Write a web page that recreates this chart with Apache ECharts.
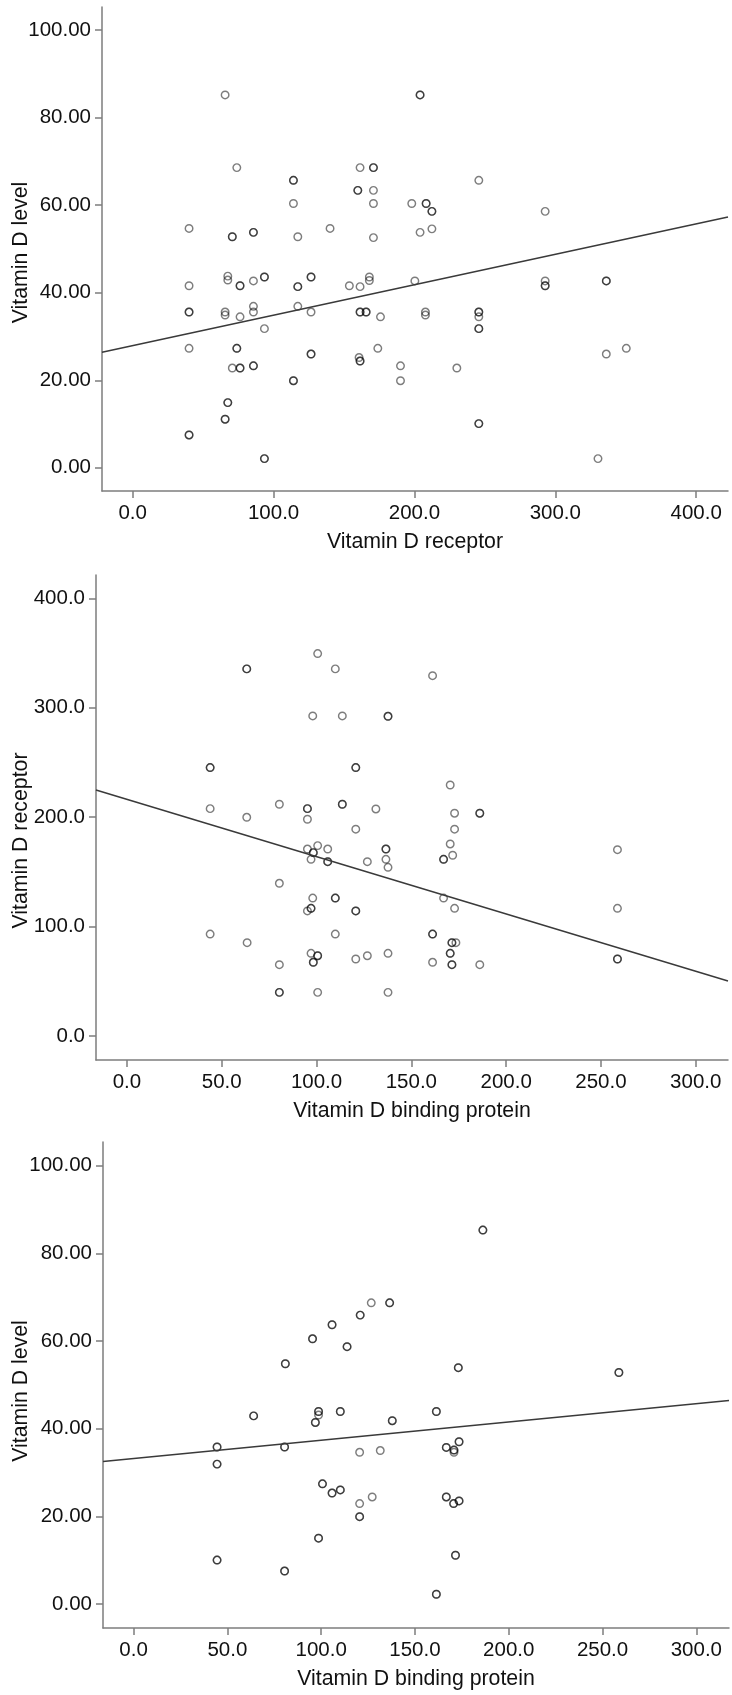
<!DOCTYPE html>
<html>
<head>
<meta charset="utf-8">
<title>Vitamin D scatter plots</title>
<script src="https://cdn.jsdelivr.net/npm/echarts@6.0.0/dist/echarts.min.js"></script>
<style>
  html, body { margin: 0; padding: 0; background: #fff; }
  #chart { width: 732px; height: 1695px; }
</style>
</head>
<body>
<div id="chart"></div>
<script>
// ---- panel 1: Vitamin D receptor (x) vs Vitamin D level (y) ----
// N = how many circles sit on the same spot (drawn on top of each other)
var p1X = [65.6, 73.9, 40.0, 70.7, 85.7, 114.1, 114.1, 117.2, 140.1, 161.4, 159.8, 204.0, 170.9, 170.9, 170.9, 198.1,
  208.3, 212.4, 245.7, 292.8, 204.0, 212.4, 170.9, 40.0, 67.5, 67.5, 76.2, 85.7, 93.5, 117.2, 126.6, 153.8,
  161.4, 168.0, 168.0, 40.0, 65.6, 65.6, 76.2, 85.7, 85.7, 93.5, 117.2, 126.6, 161.4, 165.7, 40.0, 73.9,
  70.7, 76.2, 85.7, 126.6, 160.7, 161.4, 114.1, 67.5, 65.6, 40.0, 93.5, 175.9, 200.3, 207.8, 207.8, 245.7,
  245.7, 245.7, 292.8, 292.8, 336.2, 174.0, 190.1, 190.1, 230.1, 336.2, 350.4, 245.7, 330.3];
var p1Y = [85.2, 68.6, 54.7, 52.8, 53.8, 65.7, 60.4, 52.8, 54.7, 68.6, 63.4, 85.2, 68.6, 63.4, 60.4, 60.4,
  60.4, 58.6, 65.7, 58.6, 53.8, 54.6, 52.6, 41.6, 43.8, 42.9, 41.6, 42.7, 43.6, 41.4, 43.6, 41.6,
  41.4, 43.6, 42.8, 35.6, 35.6, 34.9, 34.5, 36.9, 35.6, 31.8, 36.9, 35.6, 35.6, 35.6, 27.3, 27.3,
  22.8, 22.8, 23.3, 26.0, 25.2, 24.4, 19.9, 14.9, 11.1, 7.5, 2.1, 34.5, 42.7, 35.6, 34.9, 35.6,
  34.5, 31.8, 42.7, 41.6, 42.7, 27.3, 23.3, 19.9, 22.8, 26.0, 27.3, 10.1, 2.1];
var p1N = [1, 1, 1, 2, 2, 2, 1, 1, 1, 1, 2, 2, 2, 1, 1, 1,
  2, 2, 1, 1, 1, 1, 1, 1, 1, 1, 2, 1, 2, 2, 2, 1,
  1, 1, 1, 2, 1, 1, 1, 1, 1, 1, 1, 1, 2, 2, 1, 2,
  1, 2, 2, 2, 1, 2, 2, 2, 2, 2, 2, 1, 1, 1, 1, 2,
  1, 2, 1, 2, 2, 1, 1, 1, 1, 1, 1, 2, 1];
var p1Fit = [27.92, 0.0695]; // intercept, slope
var p1XTicks = [0, 100, 200, 300, 400];
var p1YTicks = [0, 20, 40, 60, 80, 100];

// ---- panel 2: Vitamin D binding protein (x) vs Vitamin D receptor (y) ----
var p2X = [63.2, 100.6, 109.9, 98.0, 113.6, 43.9, 120.7, 43.9, 63.2, 80.4, 95.2, 95.2, 113.6, 120.7, 161.2, 137.7,
  170.5, 131.3, 172.8, 186.1, 172.8, 95.2, 100.6, 105.9, 98.3, 97.1, 105.9, 126.8, 80.4, 98.0, 109.9, 95.2,
  97.1, 120.7, 43.9, 63.4, 109.9, 97.1, 100.6, 98.3, 80.4, 120.7, 126.8, 80.4, 100.6, 170.5, 136.6, 136.6,
  137.7, 167.0, 171.8, 258.7, 167.0, 172.8, 258.7, 161.2, 171.4, 173.5, 170.5, 161.2, 171.4, 186.1, 137.7, 137.7,
  258.7];
var p2Y = [335.5, 349.5, 335.5, 292.5, 292.5, 245.3, 245.3, 207.8, 199.9, 211.8, 207.8, 198.1, 211.8, 189.0, 329.3, 292.2,
  229.4, 207.5, 203.6, 203.6, 189.0, 170.9, 174.0, 170.9, 167.6, 161.5, 159.3, 159.3, 139.6, 126.1, 126.1, 114.3,
  116.7, 114.3, 93.2, 85.3, 93.2, 75.6, 73.4, 67.4, 65.2, 70.4, 73.4, 39.9, 39.9, 175.5, 170.9, 161.5,
  154.2, 161.5, 165.2, 170.3, 126.1, 116.7, 116.7, 93.2, 85.3, 85.3, 75.6, 67.4, 65.2, 65.2, 75.6, 39.9,
  70.4];
var p2N = [2, 1, 1, 1, 1, 2, 2, 1, 1, 1, 2, 1, 2, 1, 1, 2,
  1, 1, 1, 2, 1, 1, 1, 1, 2, 1, 2, 1, 1, 1, 2, 1,
  2, 2, 1, 1, 1, 1, 2, 2, 1, 1, 1, 2, 1, 1, 2, 1,
  1, 2, 1, 1, 1, 1, 1, 2, 2, 1, 2, 1, 2, 1, 1, 1,
  2];
var p2Fit = [216.36, -0.5239];
var p2XTicks = [0, 50, 100, 150, 200, 250, 300];
var p2YTicks = [0, 100, 200, 300, 400];

// ---- panel 3: Vitamin D binding protein (x) vs Vitamin D level (y) ----
var p3X = [80.9, 95.4, 105.8, 113.8, 120.8, 186.2, 126.7, 136.5, 173.1, 258.7, 64.0, 98.6, 98.6, 96.9, 110.2, 44.5,
  80.5, 44.5, 120.5, 100.7, 105.8, 110.2, 120.5, 120.5, 98.6, 44.5, 80.5, 137.9, 161.4, 131.5, 166.7, 170.8,
  170.8, 173.5, 127.2, 166.7, 170.6, 173.5, 171.6, 161.4];
var p3Y = [54.8, 60.5, 63.7, 58.7, 65.9, 85.3, 68.7, 68.7, 53.9, 52.8, 42.9, 43.9, 43.1, 41.4, 43.9, 35.8,
  35.8, 31.9, 34.6, 27.4, 25.3, 26.0, 22.9, 19.9, 15.0, 10.0, 7.5, 41.8, 43.9, 35.0, 35.7, 35.1,
  34.6, 37.0, 24.4, 24.4, 22.9, 23.5, 11.1, 2.2];
var p3N = [2, 2, 2, 2, 2, 2, 1, 2, 2, 2, 2, 2, 1, 2, 2, 2,
  2, 2, 1, 2, 2, 2, 1, 2, 2, 2, 2, 2, 2, 1, 2, 2,
  1, 2, 1, 2, 2, 2, 2, 2];
var p3Fit = [33.18, 0.04165];
var p3XTicks = [0, 50, 100, 150, 200, 250, 300];
var p3YTicks = [0, 20, 40, 60, 80, 100];

var FONT = '"Liberation Sans", Arial, sans-serif';
var AXIS_GRAY = '#7d7d7d';

function toPoints(xs, ys, ns) {
  var out = [];
  for (var i = 0; i < xs.length; i++) {
    for (var k = 0; k < ns[i]; k++) {
      out.push([xs[i], ys[i]]);
    }
  }
  return out;
}

function fitLine(fit, range) {
  return [
    [range[0], fit[0] + fit[1] * range[0]],
    [range[1], fit[0] + fit[1] * range[1]]
  ];
}

function fmt(digits) {
  return function(v) { return v.toFixed(digits); };
}

function makeAxis(idx, range, ticks, name, nameGap, namePad, labelMargin, formatter) {
  return {
    gridIndex: idx,
    type: 'value',
    min: range[0],
    max: range[1],
    name: name,
    nameLocation: 'middle',
    nameGap: nameGap,
    nameMoveOverlap: false,
    nameTextStyle: { fontSize: 21.3, color: '#111', fontFamily: FONT, padding: namePad },
    axisLine: { show: true, onZero: false, lineStyle: { color: AXIS_GRAY, width: 1.5 } },
    axisTick: { show: true, length: 7, customValues: ticks, lineStyle: { color: AXIS_GRAY, width: 1.5 } },
    axisLabel: { customValues: ticks, margin: labelMargin, fontSize: 20.5, color: '#111', fontFamily: FONT, formatter: formatter },
    splitLine: { show: false }
  };
}

var panels = [
  {
    grid: { left: 102, top: 7, right: 4, height: 484 },
    xRange: [-21.8, 422.6], yRange: [-5.3, 105.3],
    xTicks: p1XTicks, yTicks: p1YTicks,
    xName: 'Vitamin D receptor', yName: 'Vitamin D level',
    yNameGap: 70, yNamePad: [0, 7, 0, 0], yDigits: 2,
    points: toPoints(p1X, p1Y, p1N), fit: p1Fit
  },
  {
    grid: { left: 96, top: 575, right: 4, height: 485 },
    xRange: [-16.3, 317], yRange: [-21.9, 421.3],
    xTicks: p2XTicks, yTicks: p2YTicks,
    xName: 'Vitamin D binding protein', yName: 'Vitamin D receptor',
    yNameGap: 64, yNamePad: [0, 46, 0, 0], yDigits: 1,
    points: toPoints(p2X, p2Y, p2N), fit: p2Fit
  },
  {
    grid: { left: 103, top: 1142, right: 3, height: 486 },
    xRange: [-16.3, 317.4], yRange: [-5.5, 105.4],
    xTicks: p3XTicks, yTicks: p3YTicks,
    xName: 'Vitamin D binding protein', yName: 'Vitamin D level',
    yNameGap: 71, yNamePad: [0, 12, 0, 0], yDigits: 2,
    points: toPoints(p3X, p3Y, p3N), fit: p3Fit
  }
];

var option = {
  animation: false,
  backgroundColor: '#fff',
  grid: [],
  xAxis: [],
  yAxis: [],
  series: []
};

for (var i = 0; i < panels.length; i++) {
  var p = panels[i];
  var g = p.grid;
  g.outerBoundsMode = 'none';
  g.containLabel = false;
  option.grid.push(g);
  option.xAxis.push(makeAxis(i, p.xRange, p.xTicks, p.xName, 41, 0, 12, fmt(1)));
  option.yAxis.push(makeAxis(i, p.yRange, p.yTicks, p.yName, p.yNameGap, p.yNamePad, 11, fmt(p.yDigits)));
  option.series.push({
    type: 'scatter',
    xAxisIndex: i,
    yAxisIndex: i,
    symbol: 'circle',
    symbolSize: 7.5,
    silent: true,
    itemStyle: { color: 'rgba(0,0,0,0)', borderColor: 'rgba(0,0,0,0.64)', borderWidth: 1.45 },
    data: p.points
  });
  option.series.push({
    type: 'line',
    xAxisIndex: i,
    yAxisIndex: i,
    symbol: 'none',
    silent: true,
    lineStyle: { color: '#3a3a3a', width: 1.5 },
    data: fitLine(p.fit, p.xRange)
  });
}

var chart = echarts.init(document.getElementById('chart'), null, { renderer: 'canvas' });
chart.setOption(option);
</script>
</body>
</html>
